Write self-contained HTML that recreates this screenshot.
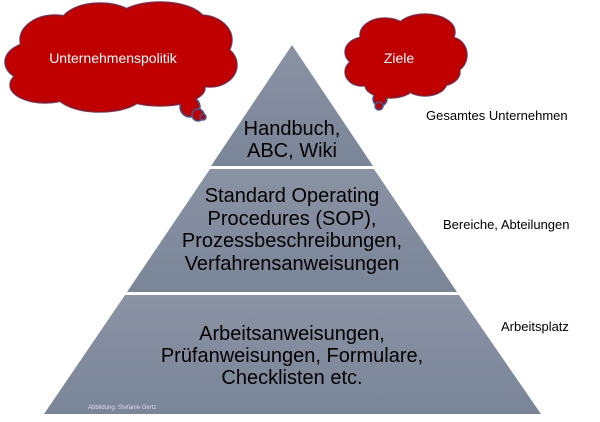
<!DOCTYPE html>
<html><head><meta charset="utf-8"><style>
html,body{margin:0;padding:0;background:#fff;}
svg{display:block;font-family:"Liberation Sans",sans-serif;}
</style></head><body>
<svg width="600" height="422" viewBox="0 0 600 422" xmlns="http://www.w3.org/2000/svg">
<defs>
<linearGradient id="g" x1="0" y1="0" x2="0" y2="1">
<stop offset="0" stop-color="#8a93a4"/><stop offset="1" stop-color="#7a8598"/>
</linearGradient>
<g id="c1">
<ellipse cx="55" cy="40" rx="35" ry="25"/><ellipse cx="100" cy="25" rx="40" ry="22"/>
<ellipse cx="160" cy="22" rx="45" ry="20"/><ellipse cx="200" cy="40" rx="32" ry="25"/>
<ellipse cx="210" cy="65" rx="27" ry="22"/><ellipse cx="35" cy="62" rx="30" ry="20"/>
<ellipse cx="45" cy="85" rx="35" ry="18"/><ellipse cx="100" cy="92" rx="45" ry="20"/>
<ellipse cx="160" cy="88" rx="45" ry="18"/><ellipse cx="185" cy="75" rx="20" ry="14"/>
<ellipse cx="120" cy="60" rx="90" ry="35"/>
</g>
<g id="c2">
<ellipse cx="365" cy="52" rx="20" ry="15"/><ellipse cx="385" cy="35" rx="25" ry="17"/>
<ellipse cx="425" cy="32" rx="30" ry="18"/><ellipse cx="450" cy="55" rx="17" ry="18"/>
<ellipse cx="440" cy="72" rx="20" ry="14"/><ellipse cx="362" cy="72" rx="17" ry="14"/>
<ellipse cx="390" cy="85" rx="25" ry="13"/><ellipse cx="425" cy="82" rx="22" ry="14"/>
<ellipse cx="405" cy="58" rx="40" ry="24"/>
</g>
</defs>
<g fill="#c00000" stroke="#3b5a9a" stroke-width="1.5"><use href="#c1"/><use href="#c2"/>
<circle cx="190" cy="107" r="10"/><circle cx="198" cy="115" r="6"/><circle cx="203" cy="117" r="3"/>
<circle cx="380" cy="99" r="7"/><circle cx="379" cy="106" r="4"/></g>
<g fill="#c00000"><use href="#c1"/><use href="#c2"/></g>
<text x="113" y="63" font-size="14" fill="#fff" text-anchor="middle">Unternehmenspolitik</text>
<text x="399" y="63" font-size="14" fill="#fff" text-anchor="middle">Ziele</text>
<polygon points="292,45 373,166 211,166" fill="url(#g)"/>
<polygon points="210,169 374,169 457,292 127,292" fill="url(#g)"/>
<polygon points="125,295 459,295 541,414 44,414" fill="url(#g)"/>
<g font-size="20" fill="#000" text-anchor="middle">
<text x="292" y="135">Handbuch,</text><text x="292" y="157">ABC, Wiki</text>
<text x="292" y="202">Standard Operating</text><text x="292" y="225">Procedures (SOP),</text>
<text x="292" y="247">Prozessbeschreibungen,</text><text x="292" y="270">Verfahrensanweisungen</text>
<text x="292" y="340">Arbeitsanweisungen,</text><text x="292" y="362">Prüfanweisungen, Formulare,</text>
<text x="292" y="384">Checklisten etc.</text>
</g>
<text x="88" y="409" font-size="6" fill="#dde">Abbildung: Stefanie Gertz</text>
<g font-size="13" fill="#000">
<text x="426" y="120">Gesamtes Unternehmen</text>
<text x="443" y="229">Bereiche, Abteilungen</text>
<text x="501" y="331">Arbeitsplatz</text>
</g>
</svg>
</body></html>
